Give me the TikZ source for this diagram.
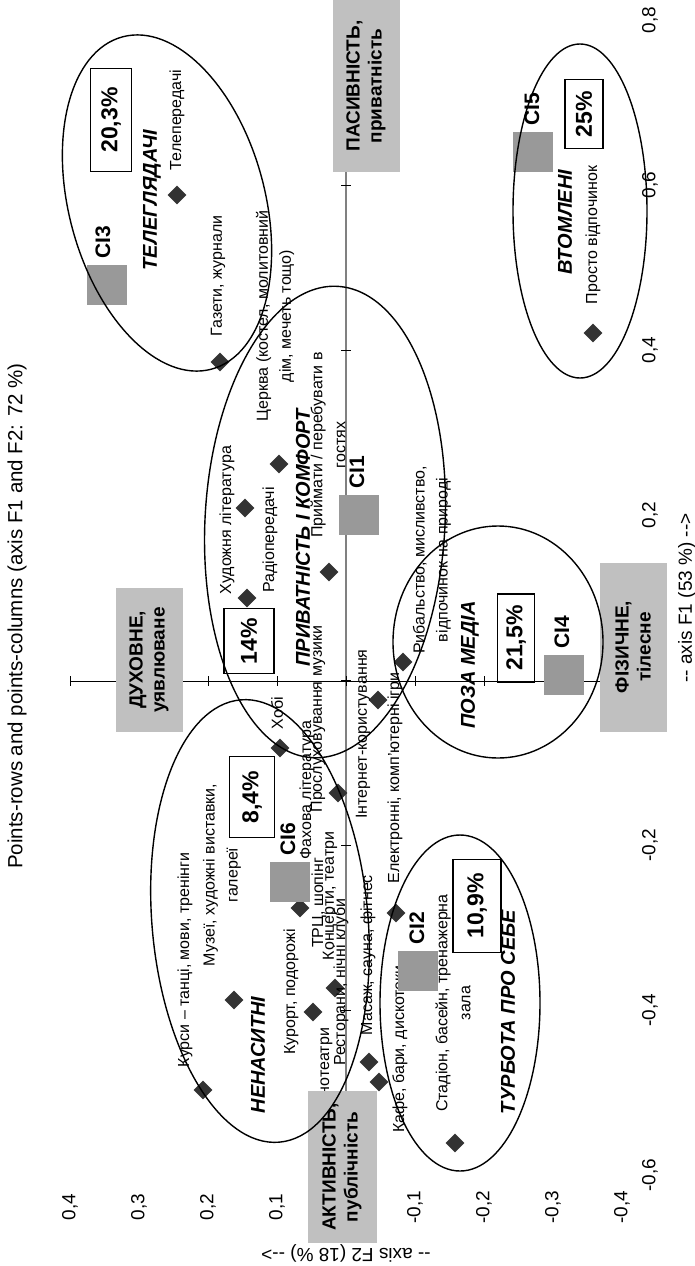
\documentclass[tikz,border=0pt]{standalone}
\usepackage{fontspec}
\setmainfont{Liberation Sans}
\usepackage{tikz}
\usetikzlibrary{shapes,calc,positioning}
\definecolor{ptgray}{HTML}{333333}
\definecolor{sqgray}{HTML}{999999}
\definecolor{boxgray}{HTML}{C0C0C0}
\definecolor{axgray}{HTML}{808080}
\tikzset{
	actpt/.style={diamond, fill=ptgray, inner sep=0pt, minimum size=19pt},
	lbl/.style={rotate=90, inner sep=0pt, align=center, font=\fontsize{16}{23}\selectfont},
	clsq/.style={fill=sqgray, minimum size=40pt, inner sep=0pt},
	cilbl/.style={rotate=90, inner sep=0pt, anchor=west, font=\fontsize{21}{25}\selectfont\bfseries},
	pct/.style={draw, line width=1.3pt, fill=white, rotate=90, inner sep=0pt, font=\fontsize{23}{27}\selectfont\bfseries},
	grp/.style={rotate=90, inner sep=0pt, font=\fontsize{20}{24}\selectfont\bfseries\itshape},
	sidebox/.style={fill=boxgray, rotate=90, inner sep=0pt, align=center, font=\fontsize{19}{22}\selectfont\bfseries},
	grpline/.style={line width=1.4pt},
	ticklbl/.style={rotate=90, inner sep=0pt, font=\fontsize{19}{22}\selectfont}
}
\begin{document}
\begin{tikzpicture}[x=1pt,y=-1pt]
    \fill[white] (0,0) rectangle (695,1266);
    \useasboundingbox (0,0) rectangle (695,1266);

    % axes
    \draw[axgray, line width=2pt] (346,20) -- (346,1175);
    \draw[line width=0.8pt] (71,681) -- (622,681);
    \foreach \k in {-4,...,4} \draw[line width=0.8pt] ({346-69*\k},676) -- ++(0,10);
    \foreach \k in {-3,...,4} \draw[line width=0.8pt] (341,{680-165*\k}) -- ++(10,0);
    \foreach \v/\t in {-0.6/{-0,6},-0.4/{-0,4},-0.2/{-0,2},0.2/{0,2},0.4/{0,4},0.6/{0,6},0.8/{0,8}}
        \node[ticklbl] at (650,{680-825*\v}) {\t};
    \foreach \w/\t in {0.4/{0,4},0.3/{0,3},0.2/{0,2},0.1/{0,1},-0.1/{-0,1},-0.2/{-0,2},-0.3/{-0,3},-0.4/{-0,4}}
        \node[ticklbl] at ({346-690*\w},1207) {\t};
    \node[ticklbl, font=\fontsize{20.5}{24}\selectfont] (title) at (17,616) {Points-rows and points-columns (axis F1 and F2: 72 \%)};
    \node[ticklbl] (axf1) at (687,598) {{-}{-} axis F1 (53 \%) {-}{-}{>}};
    \node[ticklbl, rotate=90] (axf2) at (346,1253) {{-}{-} axis F2 (18 \%) {-}{-}{>}};

    % points
    \node[actpt] (p1) at (177,195) {};
    \node[actpt] (p2) at (220,362) {};
    \node[actpt] (p3) at (279,464) {};
    \node[actpt] (p4) at (245,508) {};
    \node[actpt] (p5) at (247,598) {};
    \node[actpt] (p6) at (329,572) {};
    \node[actpt] (p7) at (280,748) {};
    \node[actpt] (p8) at (338,793) {};
    \node[actpt] (p9) at (378,700) {};
    \node[actpt] (p10) at (403,662) {};
    \node[actpt] (p11) at (300,908) {};
    \node[actpt] (p12) at (335,988) {};
    \node[actpt] (p13) at (313,1012) {};
    \node[actpt] (p14) at (396,913) {};
    \node[actpt] (p15) at (369,1062) {};
    \node[actpt] (p16) at (379,1082) {};
    \node[actpt] (p17) at (234,1000) {};
    \node[actpt] (p18) at (203,1090) {};
    \node[actpt] (p19) at (455,1143) {};
    \node[actpt] (p20) at (593,333) {};

    % point labels
    \node[lbl] (tele) at (177,120) {Телепередачі};
    \node[lbl] (gazety) at (218,276) {Газети, журнали};
    \node[lbl] (tserkva) at (275,316) {Церква (костел, молитовний\\дім, мечеть тощо)};
    \node[lbl] (khudlit) at (227,520) {Художня література};
    \node[lbl] (radio) at (270,540) {Радіопередачі};
    \node[lbl] (gosti) at (328,445) {Приймати / перебувати в\\гостях};
    \node[lbl] (khobi) at (277,713) {Хобі};
    \node[lbl] (muzyka) at (318,719) {Прослуховування музики};
    \node[lbl] (fakhlit) at (307,790) {Фахова література};
    \node[lbl] (internet) at (363,734) {Інтернет-користування};
    \node[lbl] (igry) at (395,778) {Електронні, комп'ютерні ігри};
    \node[lbl] (pryroda) at (432,560) {Рибальство, мисливство,\\відпочинок на природі};
    \node[lbl] (trts) at (319,903) {ТРЦ, шопінг};
    \node[lbl] (kontserty) at (330,896) {Концерти, театри};
    \node[lbl] (kurort) at (291,992) {Курорт, подорожі};
    \node[lbl] (restorany) at (341,982) {Ресторани, нічні клуби};
    \node[lbl] (kino) at (325,1068) {Кінотеатри};
    \node[lbl] (masazh) at (368,955) {Масаж, сауна, фітнес};
    \node[lbl] (kafe) at (400,1049) {Кафе, бари, дискотеки};
    \node[lbl] (stadion) at (453,1003) {Стадіон, басейн, тренажерна\\зала};
    \node[lbl] (muzei) at (222,875) {Музеї, художні виставки,\\галереї};
    \node[lbl] (kursy) at (185,960) {Курси – танці, мови, тренінги};
    \node[lbl] (vidpoch) at (593,235) {Просто відпочинок};

    % side boxes
    \node[sidebox, minimum width=144pt, minimum height=67pt] (dukhovne) at (149,660) {ДУХОВНЕ,\\уявлюване};
    \node[sidebox, minimum width=172pt, minimum height=67pt] (pasyvnist) at (366,86) {ПАСИВНІСТЬ,\\приватність};
    \node[sidebox, minimum width=169pt, minimum height=67pt] (fizychne) at (633,647) {ФІЗИЧНЕ,\\тілесне};
    \node[sidebox, minimum width=152pt, minimum height=69pt] (aktyvnist) at (342,1167) {АКТИВНІСТЬ,\\публічність};

    % cluster centres
    \node[clsq] (sq3) at (107,285) {};
    \node[clsq] (sq1) at (359,515) {};
    \node[clsq] (sq4) at (564,675) {};
    \node[clsq] (sq5) at (533,152) {};
    \node[clsq] (sq6) at (290,882) {};
    \node[clsq] (sq2) at (418,971) {};
    \node[cilbl] (ci3) at ([xshift=-4pt,yshift=6pt]sq3.north) {CI3};
    \node[cilbl] (ci1) at ([xshift=-2pt,yshift=6pt]sq1.north) {CI1};
    \node[cilbl] (ci4) at ([xshift=-2pt,yshift=6pt]sq4.north) {CI4};
    \node[cilbl] (ci5) at ([xshift=-1pt,yshift=6pt]sq5.north) {CI5};
    \node[cilbl] (ci6) at ([xshift=-2pt,yshift=6pt]sq6.north) {CI6};
    \node[cilbl] (ci2) at ([xshift=-1pt,yshift=6pt]sq2.north) {CI2};

    % shares
    \node[pct, minimum width=103pt, minimum height=41pt] (pc3) at (111,120) {20,3\%};
    \node[pct, minimum width=65pt, minimum height=50pt] (pc1) at (249,641) {14\%};
    \node[pct, minimum width=81pt, minimum height=45pt] (pc6) at (252,797) {8,4\%};
    \node[pct, minimum width=88pt, minimum height=37pt] (pc4) at (516,638) {21,5\%};
    \node[pct, minimum width=69pt, minimum height=38pt] (pc5) at (584,114) {25\%};
    \node[pct, minimum width=93pt, minimum height=48pt] (pc2) at (477,906) {10,9\%};

    % cluster names
    \node[grp] (g3) at (152,200) {ТЕЛЕГЛЯДАЧІ};
    \node[grp] (g1) at (303,538) {ПРИВАТНІСТЬ І КОМФОРТ};
    \node[grp] (g4) at (470,665) {ПОЗА МЕДІА};
    \node[grp] (g5) at (565,222) {ВТОМЛЕНІ};
    \node[grp] (g6) at (258,1055) {НЕНАСИТНІ};
    \node[grp] (g2) at (508,1012) {ТУРБОТА ПРО СЕБЕ};

    % cluster outlines
    \draw[grpline, rotate around={15:(167,203)}] (167,203) ellipse [x radius=98, y radius=172];
    \draw[grpline, rotate around={-3:(325,522)}] (325,522) ellipse [x radius=120, y radius=236];
    \draw[grpline] (498,642) ellipse [x radius=105, y radius=116];
    \draw[grpline] (580,211) ellipse [x radius=67, y radius=167];
    \draw[grpline, rotate around={5:(260,921)}] (260,921) ellipse [x radius=108, y radius=222];
    \draw[grpline] (460,1003) ellipse [x radius=80, y radius=168];
\end{tikzpicture}
\end{document}
